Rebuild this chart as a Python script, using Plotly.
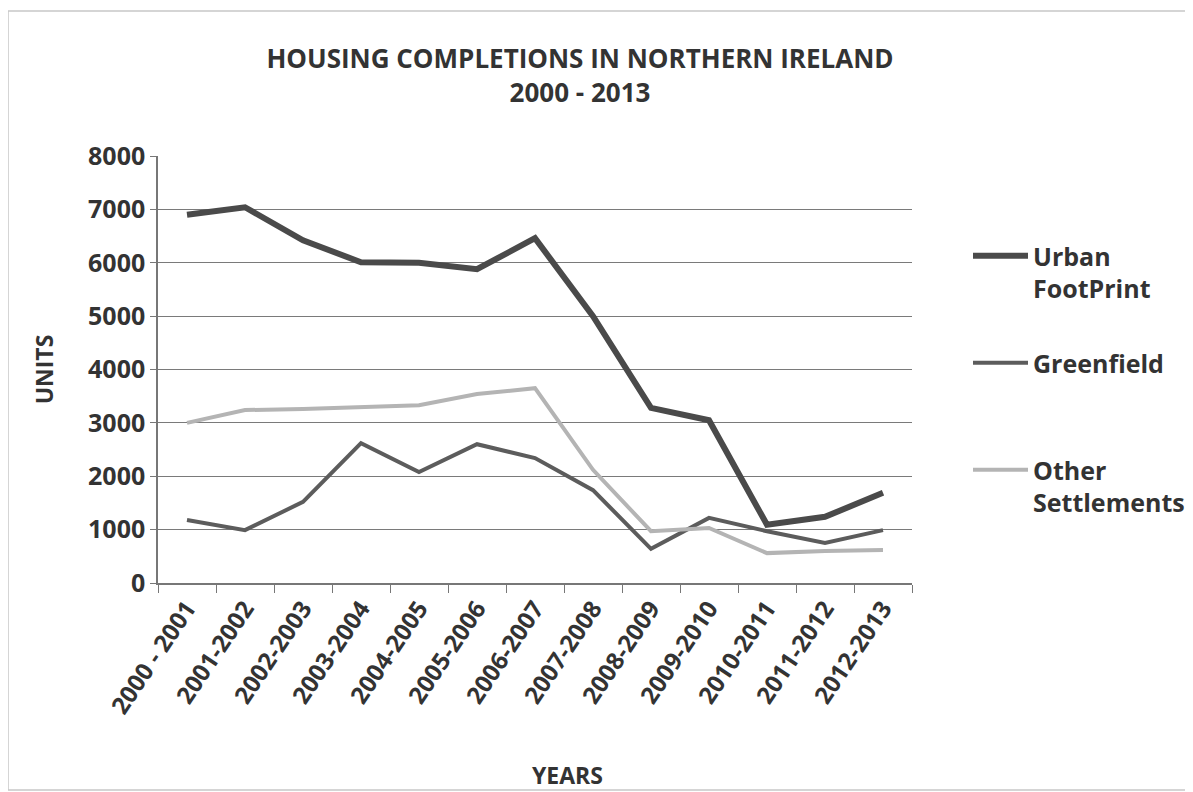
import plotly.graph_objects as go

years = ["2000 - 2001", "2001-2002", "2002-2003", "2003-2004", "2004-2005", "2005-2006",
         "2006-2007", "2007-2008", "2008-2009", "2009-2010", "2010-2011", "2011-2012", "2012-2013"]
urban_footprint = [6900, 7040, 6420, 6010, 6000, 5880, 6460, 5000, 3280, 3050, 1090, 1240, 1690]
greenfield = [1180, 990, 1520, 2620, 2080, 2600, 2340, 1740, 640, 1220, 970, 750, 990]
other_settlements = [3000, 3240, 3260, 3300, 3330, 3540, 3650, 2120, 970, 1030, 560, 600, 620]
y_ticks = [0, 1000, 2000, 3000, 4000, 5000, 6000, 7000, 8000]

FONT = "Open Sans"
TXT = "#333333"
W, H = 1185, 784
L, R, T, B = 150, 281, 148, 209
PW, PH = W - L - R, H - T - B


def px(xf):
    return (xf - L) / PW


def py(yf):
    return (H - B - yf) / PH


fig = go.Figure()
fig.add_trace(go.Scatter(x=years, y=urban_footprint, mode="lines", name="Urban<br>FootPrint",
                         line=dict(color="#4a4a4a", width=6), legendgroup="a"))
fig.add_trace(go.Scatter(x=years, y=greenfield, mode="lines", name="Greenfield<br> ",
                         line=dict(color="#5c5c5c", width=4), legendgroup="b"))
fig.add_trace(go.Scatter(x=years, y=other_settlements, mode="lines", name="Other<br>Settlements",
                         line=dict(color="#b4b4b4", width=4), legendgroup="c"))

fig.update_layout(
    width=W, height=H,
    margin=dict(l=L, r=R, t=T, b=B, autoexpand=False),
    paper_bgcolor="white", plot_bgcolor="white",
    font=dict(family=FONT, color=TXT, size=24, weight="bold"),
    title=dict(text="HOUSING COMPLETIONS IN NORTHERN IRELAND<br>2000 - 2013",
               x=px(572), xref="paper", xanchor="center",
               y=1 - 60 / H, yanchor="middle",
               font=dict(family=FONT, size=26, color=TXT, weight="bold")),
    legend=dict(x=px(960), y=py(225), xanchor="left", yanchor="top",
                font=dict(family=FONT, size=25, color=TXT, weight="bold"),
                tracegroupgap=39, valign="top", itemwidth=55,
                bgcolor="rgba(0,0,0,0)"),
    showlegend=True,
)
fig.update_xaxes(
    type="category", range=[-0.5, 12.5], tickson="boundaries",
    showline=True, linecolor="#777777", linewidth=1.5,
    ticks="outside", ticklen=8, tickcolor="#777777", tickangle=-56,
    tickfont=dict(family=FONT, size=24, color=TXT, weight="bold"),
    showgrid=False,
)
fig.update_yaxes(
    range=[0, 8000], tickvals=y_ticks, showline=True, linecolor="#777777", linewidth=1.5,
    ticks="outside", ticklen=6, tickcolor="#777777",
    showgrid=True, gridcolor="#7a7a7a", gridwidth=1.2,
    tickfont=dict(family=FONT, size=25, color=TXT, weight="bold"),
    title=dict(text="UNITS", font=dict(family=FONT, size=23, color=TXT, weight="bold"), standoff=28),
    zeroline=False,
)
fig.add_annotation(text="YEARS", xref="paper", yref="paper", x=px(559), y=py(767),
                   xanchor="center", yanchor="middle", showarrow=False,
                   font=dict(family=FONT, size=23, color=TXT, weight="bold"))
fig.add_shape(type="rect", xref="paper", yref="paper",
              x0=px(0), x1=px(1182), y0=py(782), y1=py(3),
              line=dict(color="#c8c8c8", width=1.5))
fig.write_html("out.html")
